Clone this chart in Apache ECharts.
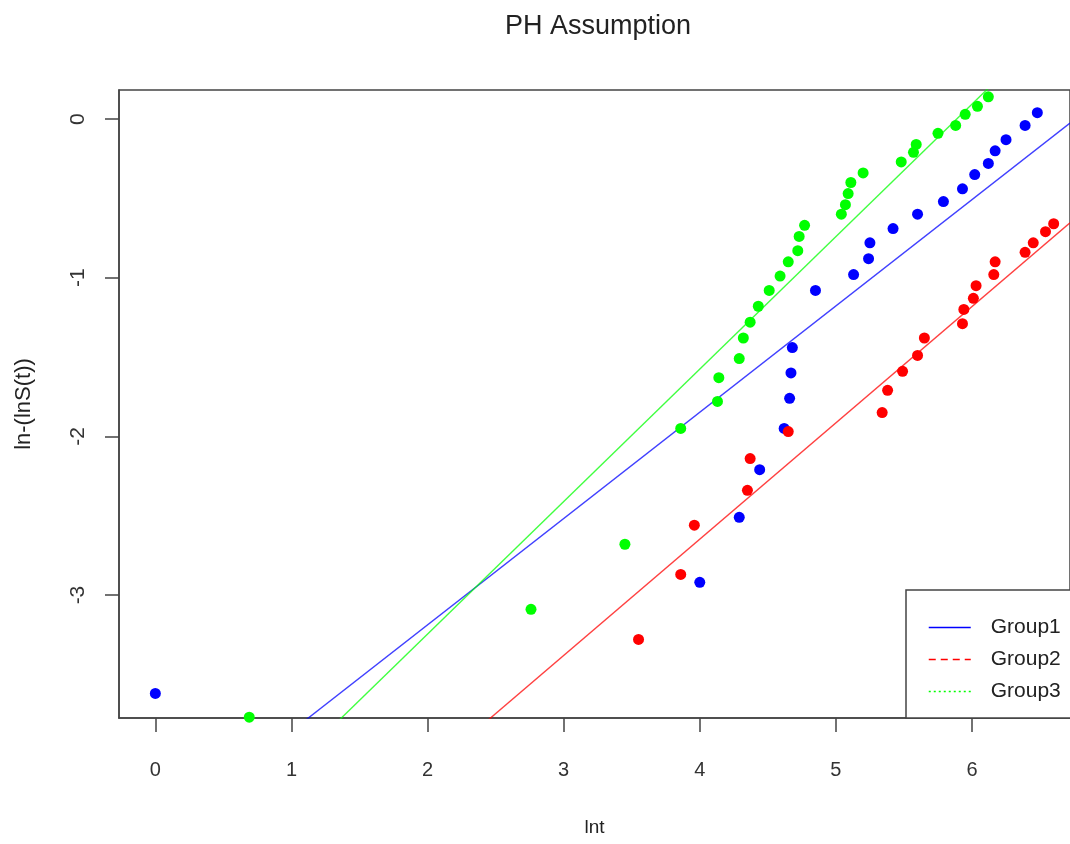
<!DOCTYPE html>
<html>
<head>
<meta charset="utf-8">
<script src="https://cdn.jsdelivr.net/npm/echarts@6/dist/echarts.min.js"></script>
<style>
html,body{margin:0;padding:0;background:#fff;}
#chart{width:1070px;height:844px;}
</style>
</head>
<body>
<div id="chart"></div>
<script>
// ---- data ----
const groupNames = ['Group1', 'Group2', 'Group3'];
const group1Points = [
  [0.00, -3.62], [4.00, -2.92], [4.29, -2.51], [4.44, -2.21], [4.62, -1.95],
  [4.66, -1.76], [4.67, -1.60], [4.68, -1.44], [4.85, -1.08], [5.13, -0.98],
  [5.24, -0.88], [5.25, -0.78], [5.42, -0.69], [5.60, -0.60], [5.79, -0.52],
  [5.93, -0.44], [6.02, -0.35], [6.12, -0.28], [6.17, -0.20], [6.25, -0.13],
  [6.39, -0.04], [6.48, 0.04]
];
const group2Points = [
  [3.55, -3.28], [3.86, -2.87], [3.96, -2.56], [4.35, -2.34], [4.37, -2.14],
  [4.65, -1.97], [5.34, -1.85], [5.38, -1.71], [5.49, -1.59], [5.60, -1.49],
  [5.65, -1.38], [5.93, -1.29], [5.94, -1.20], [6.01, -1.13], [6.03, -1.05],
  [6.16, -0.98], [6.17, -0.90], [6.39, -0.84], [6.45, -0.78], [6.54, -0.71],
  [6.60, -0.66]
];
const group3Points = [
  [0.69, -3.77], [2.76, -3.09], [3.45, -2.68], [3.86, -1.95], [4.13, -1.78],
  [4.14, -1.63], [4.29, -1.51], [4.32, -1.38], [4.37, -1.28], [4.43, -1.18],
  [4.51, -1.08], [4.59, -0.99], [4.65, -0.90], [4.72, -0.83], [4.73, -0.74],
  [4.77, -0.67], [5.04, -0.60], [5.07, -0.54], [5.09, -0.47], [5.11, -0.40],
  [5.20, -0.34], [5.48, -0.27], [5.57, -0.21], [5.59, -0.16], [5.75, -0.09],
  [5.88, -0.04], [5.95, 0.03], [6.04, 0.08], [6.12, 0.14]
];
// fitted lines (abline): intercept and slope per group
const fitIntercepts = [-4.528, -5.58, -4.916];
const fitSlopes = [0.670, 0.733, 0.835];
const xTickValues = [0, 1, 2, 3, 4, 5, 6];
const yTickValues = [-3, -2, -1, 0];
const xRange = [-0.267, 6.72];
const yRange = [-3.775, 0.183];

// ---- chart ----
const colors = ['#0000ff', '#ff0000', '#00ff00'];
const pointSets = [group1Points, group2Points, group3Points];
const legendLineTypes = ['solid', [7, 5], [2, 3]];
const font = '"Liberation Sans", Arial, Helvetica, sans-serif';

const series = [];
groupNames.forEach((name, i) => {
  series.push({
    name: name,
    type: 'line',
    data: xRange.map(x => [x, fitIntercepts[i] + fitSlopes[i] * x]),
    symbol: 'none',
    showSymbol: false,
    silent: true,
    clip: true,
    z: 2,
    lineStyle: { color: colors[i], width: 1.4, opacity: 0.75, type: 'solid' },
    itemStyle: { color: colors[i] }
  });
});
groupNames.forEach((name, i) => {
  series.push({
    name: name + ' points',
    type: 'scatter',
    data: pointSets[i],
    symbol: 'circle',
    symbolSize: 11,
    clip: true,
    z: 3,
    itemStyle: { color: colors[i], opacity: 1 }
  });
});

const axisColor = '#444';
const chart = echarts.init(document.getElementById('chart'), null, { renderer: 'canvas' });
chart.setOption({
  animation: false,
  backgroundColor: '#ffffff',
  title: {
    text: 'PH Assumption',
    left: 500,
    top: 8,
    textStyle: { fontFamily: font, fontSize: 27, fontWeight: 'normal', color: '#222' }
  },
  grid: {
    left: 119, top: 90, right: -5, bottom: 126,
    show: true, borderColor: axisColor, borderWidth: 1.5, backgroundColor: 'transparent'
  },
  legend: {
    left: 906,
    top: 590,
    orient: 'vertical',
    data: groupNames.map((name, i) => ({
      name: name,
      itemStyle: { opacity: 0 },
      lineStyle: { type: legendLineTypes[i], width: 1.5, opacity: 1 }
    })),
    itemWidth: 42,
    itemHeight: 22,
    itemGap: 11,
    padding: [27, 60, 16, 22],
    borderColor: axisColor,
    borderWidth: 1.5,
    backgroundColor: '#fff',
    selectedMode: false,
    textStyle: { fontFamily: font, fontSize: 21, color: '#222', padding: [0, 0, 0, 15] }
  },
  xAxis: {
    type: 'value',
    min: xRange[0],
    max: xRange[1],
    name: 'lnt',
    nameLocation: 'middle',
    nameGap: 100,
    nameTextStyle: { fontFamily: font, fontSize: 19, color: '#222' },
    axisLine: { show: true, onZero: false, lineStyle: { color: axisColor, width: 1.5 } },
    axisTick: { show: true, length: 14, customValues: xTickValues, lineStyle: { color: axisColor, width: 1.5 } },
    axisLabel: { customValues: xTickValues, margin: 42, fontFamily: font, fontSize: 20, color: '#333' },
    splitLine: { show: false }
  },
  yAxis: {
    type: 'value',
    min: yRange[0],
    max: yRange[1],
    name: 'ln-(lnS(t))',
    nameLocation: 'middle',
    nameRotate: 90,
    nameGap: 84,
    nameTextStyle: { fontFamily: font, fontSize: 22, color: '#222' },
    axisLine: { show: true, onZero: false, lineStyle: { color: axisColor, width: 1.5 } },
    axisTick: { show: true, length: 14, customValues: yTickValues, lineStyle: { color: axisColor, width: 1.5 } },
    axisLabel: { customValues: yTickValues, rotate: 90, margin: 30, fontFamily: font, fontSize: 21, color: '#333' },
    splitLine: { show: false }
  },
  series: series
});
</script>
</body>
</html>
